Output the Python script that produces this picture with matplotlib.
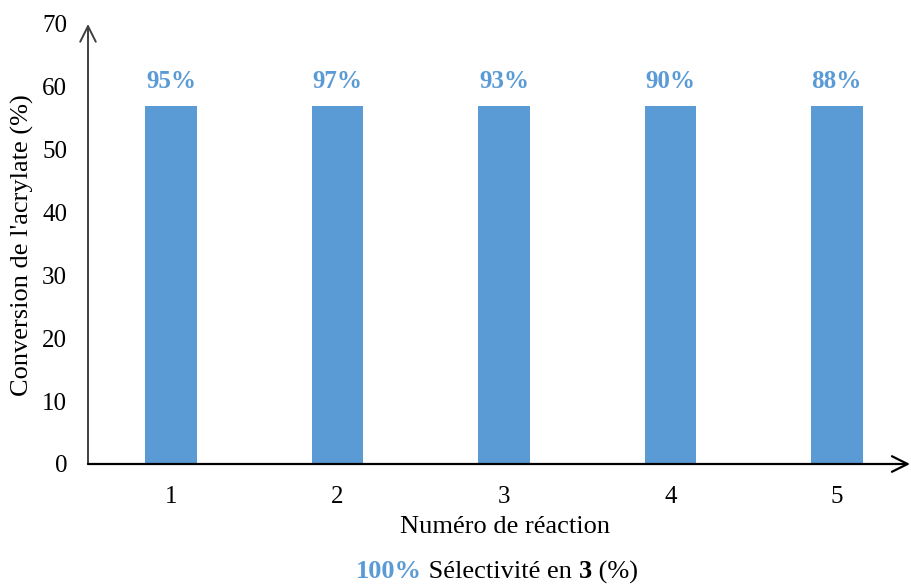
import matplotlib.pyplot as plt

plt.rcParams['font.family'] = ['Liberation Serif', 'DejaVu Serif']

reactions = ['1', '2', '3', '4', '5']
conversion = [57, 57, 57, 57, 57]
selectivity = ['95%', '97%', '93%', '90%', '88%']

blue = '#5B9BD5'

fig = plt.figure(figsize=(9.12, 5.84), dpi=100)
ax = fig.add_axes([88 / 912, 120 / 584, 822 / 912, 440 / 584])

x = list(range(1, len(reactions) + 1))
ax.bar(x, conversion, width=0.31, color=blue, zorder=2)
for xi, yi, lab in zip(x, conversion, selectivity):
    ax.text(xi, yi + 2.0, lab, ha='center', va='bottom', color=blue,
            fontsize=18, fontweight='bold')

ax.set_xlim(0.5, 5.44)
ax.set_ylim(0, 70)
ax.set_xticks(x)
ax.set_xticklabels(reactions)
ax.set_yticks(range(0, 71, 10))
ax.tick_params(axis='both', length=0, labelsize=18)
ax.tick_params(axis='x', pad=16)
ax.tick_params(axis='y', pad=15)

for s in ['top', 'right', 'left', 'bottom']:
    ax.spines[s].set_visible(False)

# axes with arrow heads
ax.annotate('', xy=(0, 1.0), xytext=(0, 0), xycoords='axes fraction',
            arrowprops=dict(arrowstyle='->', color='#404040', lw=1.4,
                            mutation_scale=28, shrinkA=0, shrinkB=0),
            annotation_clip=False)
ax.annotate('', xy=(1.0, 0), xytext=(0, 0), xycoords='axes fraction',
            arrowprops=dict(arrowstyle='->', color='black', lw=1.6,
                            mutation_scale=28, shrinkA=0, shrinkB=0),
            annotation_clip=False)

fig.text(22 / 912, 1 - 245 / 584, "Conversion de l'acrylate (%)",
         rotation=90, ha='center', va='center', fontsize=19)
fig.text(505 / 912, 1 - 527 / 584, 'Numéro de réaction', ha='center',
         va='center', fontsize=19)

# composite caption under the x label
parts = [('100%', 'bold', blue), (' Sélectivité en ', 'normal', 'black'),
         ('3', 'bold', 'black'), (' (%)', 'normal', 'black')]
fig.canvas.draw()
renderer = fig.canvas.get_renderer()
texts = []
for s, w, c in parts:
    t = fig.text(0, 1 - 572 / 584, s, fontsize=19, fontweight=w, color=c,
                 va='center', ha='left')
    texts.append(t)
widths = [t.get_window_extent(renderer).width for t in texts]
total = sum(widths)
start = 497 - total / 2
for t, w in zip(texts, widths):
    t.set_x(start / 912)
    start += w

fig.savefig('out.png', dpi=100)
